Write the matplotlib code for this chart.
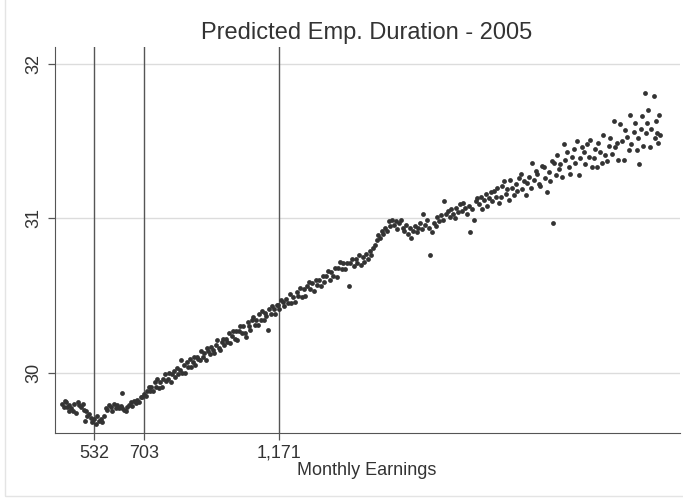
import matplotlib
matplotlib.use("Agg")
import matplotlib.pyplot as plt
from matplotlib.patches import Rectangle

plt.rcParams['font.family'] = ['Liberation Sans', 'DejaVu Sans']

# cut-off earnings marked on the x axis
cutoffs = [532, 703, 1171]
cutoff_labels = ['532', '703', '1,171']
y_ticks = [30, 31, 32]

# binned scatter: monthly earnings vs predicted employment duration
earn_low = [422, 427, 431, 435, 439, 443, 446, 452, 458, 463, 469, 474, 480, 486,
            492, 498, 500, 503, 508, 515, 521, 525, 532, 538, 542, 549, 555, 560, 566]
dur_low = [29.80, 29.78, 29.82, 29.81, 29.78, 29.75, 29.79, 29.77, 29.75, 29.80,
           29.74, 29.81, 29.79, 29.78, 29.80, 29.76, 29.69, 29.75, 29.72, 29.73,
           29.71, 29.68, 29.70, 29.67, 29.72, 29.69, 29.70, 29.68, 29.72]

earn_mid1 = [572, 577, 584, 589, 594, 601, 606, 611, 618, 624, 627, 629, 635, 641,
             645, 652, 658, 662, 669, 675, 680, 687, 692, 697, 703, 709]
dur_mid1 = [29.775, 29.76, 29.79, 29.78, 29.755, 29.80, 29.775, 29.79, 29.77, 29.785,
            29.87, 29.775, 29.76, 29.75, 29.78, 29.79, 29.81, 29.785, 29.82, 29.805,
            29.825, 29.81, 29.84, 29.845, 29.86, 29.85]

earn_mid2 = [714, 719, 724, 729, 735, 740, 745, 750, 755, 760, 765, 770, 776, 781,
             786, 791, 796, 801, 806, 811, 816, 821, 826, 831, 836, 841, 846, 851,
             856, 861, 866, 871, 876, 881, 886, 891, 896, 901, 906, 911, 916, 921,
             926, 931, 936, 941, 946, 951, 956, 961, 966, 971, 976, 981, 986, 991,
             996, 1001, 1006, 1011, 1016, 1021, 1026, 1031, 1036, 1041, 1046, 1051,
             1056, 1061, 1066, 1071, 1076, 1081, 1086, 1091, 1096, 1101, 1106, 1111,
             1116, 1121, 1126, 1131, 1136, 1141, 1146, 1151, 1156, 1161, 1166, 1171, 1176]
dur_mid2 = [29.88, 29.91, 29.88, 29.91, 29.88, 29.94, 29.91, 29.96, 29.90, 29.94,
            29.91, 29.96, 29.99, 29.95, 29.96, 30.00, 29.94, 29.99, 30.01, 29.97,
            30.03, 29.99, 30.02, 30.08, 30.00, 30.05, 30.00, 30.07, 30.04, 30.09,
            30.04, 30.07, 30.10, 30.05, 30.10, 30.09, 30.08, 30.14, 30.10, 30.13,
            30.08, 30.16, 30.14, 30.12, 30.17, 30.15, 30.13, 30.18, 30.21, 30.16,
            30.15, 30.20, 30.22, 30.18, 30.22, 30.20, 30.26, 30.19, 30.24, 30.27,
            30.22, 30.27, 30.21, 30.27, 30.30, 30.26, 30.30, 30.26, 30.23, 30.33,
            30.30, 30.28, 30.34, 30.36, 30.31, 30.34, 30.31, 30.38, 30.34, 30.40,
            30.34, 30.39, 30.37, 30.28, 30.41, 30.38, 30.43, 30.41, 30.38, 30.44,
            30.44, 30.41, 30.47]

earn_mid3 = [1182, 1188, 1194, 1200, 1206, 1212, 1218, 1224, 1230, 1236, 1242, 1248,
             1254, 1260, 1266, 1272, 1278, 1284, 1290, 1296, 1302, 1308, 1314, 1320,
             1326, 1332, 1338, 1344, 1350, 1356, 1362, 1368, 1374, 1380, 1386, 1392,
             1398, 1404, 1410, 1416, 1422, 1428, 1434, 1440, 1446, 1452, 1458, 1464,
             1470, 1476, 1482, 1488, 1494, 1500]
dur_mid3 = [30.46, 30.43, 30.48, 30.45, 30.51, 30.45, 30.49, 30.46, 30.52, 30.50,
            30.55, 30.49, 30.54, 30.50, 30.56, 30.59, 30.54, 30.58, 30.53, 30.60,
            30.57, 30.60, 30.56, 30.63, 30.59, 30.63, 30.66, 30.60, 30.65, 30.63,
            30.68, 30.62, 30.68, 30.72, 30.67, 30.71, 30.67, 30.71, 30.56, 30.71,
            30.74, 30.69, 30.74, 30.71, 30.76, 30.70, 30.75, 30.72, 30.77, 30.74,
            30.79, 30.76, 30.81, 30.83]

earn_high1 = [1506, 1512, 1518, 1524, 1530, 1536, 1542, 1548, 1554, 1560, 1566, 1572,
              1578, 1584, 1590, 1596, 1602, 1608, 1614, 1620, 1626, 1632, 1638, 1644,
              1650, 1656, 1662, 1668, 1674, 1680, 1686, 1692, 1698, 1704, 1710, 1716,
              1722, 1728, 1734, 1740, 1746, 1752, 1758, 1764, 1770, 1776, 1782, 1788,
              1794, 1800, 1806, 1812, 1818, 1824, 1830, 1836, 1842, 1848]
dur_high1 = [30.86, 30.89, 30.87, 30.92, 30.90, 30.94, 30.92, 30.98, 30.95, 30.99,
             30.96, 30.98, 30.93, 30.97, 30.99, 30.94, 30.92, 30.96, 30.90, 30.94,
             30.87, 30.92, 30.95, 30.91, 30.94, 30.97, 30.93, 31.03, 30.96, 30.99,
             30.94, 30.76, 30.91, 30.97, 30.95, 31.01, 30.98, 31.02, 30.99, 31.11,
             31.03, 31.05, 31.01, 31.06, 31.03, 31.00, 31.07, 31.04, 31.09, 31.05,
             31.10, 31.07, 31.03, 31.08, 30.91, 31.06, 30.99, 31.11]

earn_high2 = [1854, 1860, 1865, 1871, 1877, 1883, 1889, 1895, 1901, 1906, 1912, 1918,
              1923, 1929, 1934, 1940, 1947, 1952, 1958, 1963, 1968, 1974, 1980, 1986,
              1992, 1998, 2003, 2009, 2015, 2021, 2027, 2033, 2038, 2044, 2050, 2055,
              2061, 2066, 2071, 2077, 2084, 2089, 2095, 2100, 2106, 2111, 2115, 2118,
              2124, 2130, 2135, 2140, 2146, 2153, 2158, 2164, 2169, 2174, 2180, 2186,
              2192, 2198, 2204, 2209, 2215, 2221, 2227, 2232, 2238, 2243, 2249, 2256,
              2261, 2267, 2272, 2277, 2283, 2289, 2295, 2302, 2307, 2312, 2318, 2325,
              2330, 2336, 2341, 2346, 2352, 2359, 2364, 2371, 2376, 2380, 2386, 2393,
              2399, 2405, 2410, 2413, 2418, 2422, 2427, 2432, 2436, 2439, 2444, 2449,
              2455, 2462, 2466, 2470, 2473, 2476, 2482, 2486]
dur_high2 = [31.13, 31.09, 31.14, 31.06, 31.12, 31.16, 31.08, 31.13, 31.17, 31.11,
             31.18, 31.14, 31.20, 31.10, 31.14, 31.21, 31.24, 31.16, 31.19, 31.12,
             31.25, 31.20, 31.15, 31.22, 31.18, 31.26, 31.29, 31.19, 31.24, 31.15,
             31.23, 31.27, 31.20, 31.36, 31.25, 31.31, 31.29, 31.22, 31.21, 31.34,
             31.33, 31.26, 31.17, 31.30, 31.24, 31.37, 30.97, 31.36, 31.28, 31.41,
             31.32, 31.35, 31.27, 31.48, 31.38, 31.43, 31.33, 31.29, 31.40, 31.45,
             31.36, 31.50, 31.28, 31.39, 31.46, 31.43, 31.35, 31.48, 31.40, 31.51,
             31.33, 31.39, 31.45, 31.33, 31.49, 31.43, 31.36, 31.54, 31.41, 31.37,
             31.47, 31.52, 31.42, 31.63, 31.46, 31.49, 31.38, 31.61, 31.50, 31.38,
             31.57, 31.53, 31.44, 31.67, 31.48, 31.56, 31.62, 31.44, 31.52, 31.35,
             31.58, 31.66, 31.47, 31.81, 31.55, 31.62, 31.70, 31.46, 31.58, 31.79,
             31.52, 31.63, 31.55, 31.49, 31.67, 31.54]

earnings = earn_low + earn_mid1 + earn_mid2 + earn_mid3 + earn_high1 + earn_high2
duration = dur_low + dur_mid1 + dur_mid2 + dur_mid3 + dur_high1 + dur_high2

fig = plt.figure(figsize=(6.83, 5.0), dpi=100)
ax = fig.add_axes([0.080, 0.134, 0.915, 0.772])

ax.grid(axis='y', color='#dcdcdc', linewidth=1.0)
ax.set_axisbelow(True)
for c in cutoffs:
    ax.axvline(c, color='#555555', linewidth=1.0, zorder=2)
ax.scatter(earnings, duration, s=12, color='#333333', linewidths=0, zorder=3)

ax.set_xlim(395, 2552)
ax.set_ylim(29.61, 32.11)
ax.set_xticks(cutoffs)
ax.set_xticklabels(cutoff_labels)
ax.set_yticks(y_ticks)
ax.set_yticklabels([str(v) for v in y_ticks], rotation=90, va='center')
ax.tick_params(axis='both', colors='#555555', labelcolor='#333333', labelsize=13,
               length=5, width=0.9)
ax.spines['top'].set_visible(False)
ax.spines['right'].set_visible(False)
ax.spines['left'].set_color('#555555')
ax.spines['bottom'].set_color('#555555')

ax.set_xlabel('Monthly Earnings', fontsize=13, color='#333333', labelpad=0)
ax.set_title('Predicted Emp. Duration - 2005', fontsize=17, color='#333333', pad=6)

fig.patches.append(Rectangle((0.007, 0.008), 1.2, 1.2, transform=fig.transFigure,
                             fill=False, edgecolor='#e4e4e4', linewidth=1.0))

fig.savefig('out.png', dpi=100)
